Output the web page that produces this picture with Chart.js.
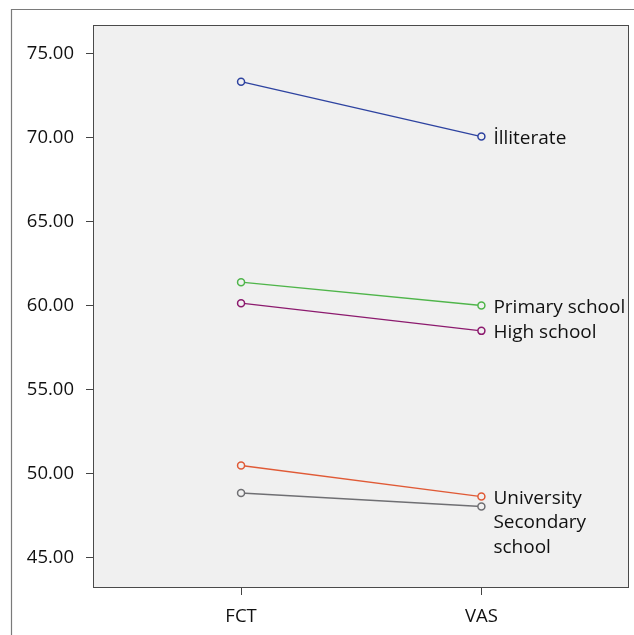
<!DOCTYPE html>
<html>
<head>
<meta charset="utf-8">
<script src="https://cdn.jsdelivr.net/npm/chart.js@4/dist/chart.umd.min.js"></script>
<style>
html,body{margin:0;padding:0;background:#fff;}
#wrap{width:634px;height:635px;}
</style>
</head>
<body>
<div id="wrap"><canvas id="c" width="634" height="635"></canvas></div>
<script>
const categories = ['FCT', 'VAS'];
const seriesNames = ['İlliterate', 'Primary school', 'High school', 'University', 'Secondary school'];
const illiterate = [73.31, 70.04];
const primarySchool = [61.38, 59.99];
const highSchool = [60.13, 58.48];
const university = [50.47, 48.62];
const secondarySchool = [48.83, 48.03];
const yTicks = [45, 50, 55, 60, 65, 70, 75];
const seriesColors = ['#2e43a0', '#4fb54a', '#8c1a6e', '#e05a36', '#6f6f73'];

const allSeries = [illiterate, primarySchool, highSchool, university, secondarySchool];

const datasets = allSeries.map((vals, i) => ({
  label: seriesNames[i],
  data: vals.map((v, j) => ({x: j, y: v})),
  borderColor: seriesColors[i],
  backgroundColor: '#f0f0f0',
  pointBackgroundColor: '#f0f0f0',
  pointBorderColor: seriesColors[i],
  pointRadius: 3.5,
  pointBorderWidth: 1.5,
  borderWidth: 1.4,
  tension: 0
}));

const framePlugin = {
  id: 'frame',
  beforeDraw(chart) {
    const {ctx, chartArea: a} = chart;
    ctx.save();
    ctx.fillStyle = '#ffffff';
    ctx.fillRect(0, 0, chart.width, chart.height);
    ctx.strokeStyle = '#7a7a7a';
    ctx.lineWidth = 1.2;
    ctx.beginPath();
    ctx.moveTo(11.5, 640);
    ctx.lineTo(11.5, 9.5);
    ctx.lineTo(640, 9.5);
    ctx.stroke();
    ctx.fillStyle = '#f0f0f0';
    ctx.fillRect(a.left, a.top, a.right - a.left, a.bottom - a.top);
    ctx.restore();
  },
  afterDraw(chart) {
    const {ctx, chartArea: a} = chart;
    ctx.save();
    ctx.strokeStyle = '#4a4a4a';
    ctx.lineWidth = 1;
    ctx.strokeRect(Math.round(a.left) + 0.5, Math.round(a.top) + 0.5,
      Math.round(a.right - a.left) - 1, Math.round(a.bottom - a.top));
    ctx.restore();
  }
};

const labelPlugin = {
  id: 'endLabels',
  afterDatasetsDraw(chart) {
    const {ctx, chartArea: a} = chart;
    ctx.save();
    ctx.font = "19px 'Open Sans'";
    ctx.fillStyle = '#111111';
    ctx.textAlign = 'left';
    ctx.textBaseline = 'middle';
    const lineH = 24.5;
    const items = chart.data.datasets.map((ds, i) => {
      const meta = chart.getDatasetMeta(i);
      const pt = meta.data[meta.data.length - 1];
      const x = pt.x + 12;
      const words = ds.label.split(' ');
      const lines = [];
      let cur = '';
      words.forEach(w => {
        const test = cur ? cur + ' ' + w : w;
        if (ctx.measureText(test).width > a.right - x - 2 && cur) {
          lines.push(cur); cur = w;
        } else cur = test;
      });
      if (cur) lines.push(cur);
      return {x, y: pt.y + 2, lines};
    });
    items.sort((p, q) => p.y - q.y);
    let prevBottom = -Infinity;
    items.forEach(it => {
      if (it.y < prevBottom + lineH) it.y = prevBottom + lineH;
      it.lines.forEach((ln, k) => ctx.fillText(ln, it.x, it.y + k * lineH));
      prevBottom = it.y + (it.lines.length - 1) * lineH;
    });
    ctx.restore();
  }
};

Chart.defaults.font.family = "'Open Sans', sans-serif";
Chart.defaults.font.size = 18.5;
Chart.defaults.color = '#111111';

new Chart(document.getElementById('c'), {
  type: 'line',
  data: {datasets},
  options: {
    responsive: false,
    animation: false,
    events: [],
    layout: {padding: {top: 25, right: 3, left: 0, bottom: 0}},
    plugins: {legend: {display: false}, tooltip: {enabled: false}},
    scales: {
      x: {
        type: 'linear',
        min: -0.616,
        max: 1.612,
        border: {display: false},
        grid: {drawOnChartArea: false, drawTicks: true, tickLength: 8, color: '#444', lineWidth: 1},
        ticks: {padding: 11, callback: v => categories[v] !== undefined ? categories[v] : ''},
        afterBuildTicks: s => { s.ticks = categories.map((c, i) => ({value: i})); },
        afterFit: s => { s.height = 48; }
      },
      y: {
        type: 'linear',
        min: 43.24,
        max: 76.68,
        border: {display: false},
        grid: {drawOnChartArea: false, drawTicks: true, tickLength: 7, color: '#444', lineWidth: 1},
        ticks: {padding: 12, callback: v => Number(v).toFixed(2)},
        afterBuildTicks: s => { s.ticks = yTicks.map(v => ({value: v})); },
        afterFit: s => { s.width = 93; }
      }
    }
  },
  plugins: [framePlugin, labelPlugin]
});
</script>
</body>
</html>
